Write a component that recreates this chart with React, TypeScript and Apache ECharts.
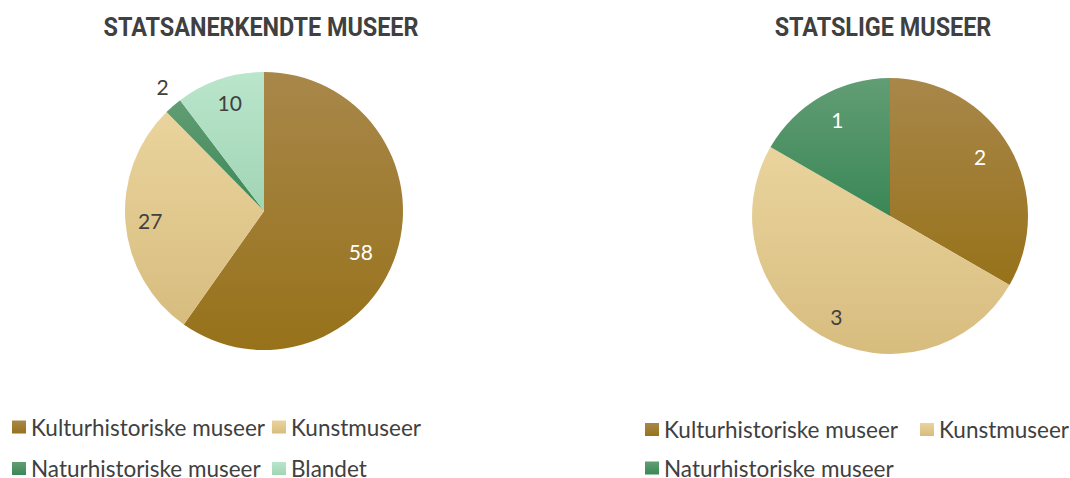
import React, { useEffect, useRef } from "react";
import * as echarts from "echarts";

const categories = ["Kulturhistoriske museer", "Kunstmuseer", "Naturhistoriske museer", "Blandet"];
const titles = ["STATSANERKENDTE MUSEER", "STATSLIGE MUSEER"];
const statsanerkendteValues = [58, 27, 2, 10];
const statsligeValues = [2, 3, 1];

const gradTop = ["#A8874A", "#EAD49D", "#629D74", "#BAE6CB"];
const gradBottom = ["#97721A", "#D7BC7E", "#3A8756", "#A1D4B5"];
const labelColors = ["#FFFFFF", "#404040", "#FFFFFF", "#404040"];

const TEXT = "#404040";
const FONT = "Lato, 'Open Sans', sans-serif";
const TITLE_FONT = "Roboto, 'Noto Sans', sans-serif";

function grad(i: number) {
  return new echarts.graphic.LinearGradient(0, 0, 0, 1, [
    { offset: 0, color: gradTop[i] },
    { offset: 1, color: gradBottom[i] },
  ]);
}

function visibleSeries(values: number[], center: number[], r: number) {
  return {
    type: "pie",
    center,
    radius: [0, r],
    startAngle: 90,
    clockwise: true,
    avoidLabelOverlap: false,
    label: { show: false },
    labelLine: { show: false },
    emphasis: { disabled: true },
    silent: true,
    data: values.map((v, i) => ({
      name: categories[i],
      value: v,
      itemStyle: { color: grad(i), borderWidth: 0 },
    })),
  };
}

function labelSeries(
  values: number[],
  center: number[],
  r: number,
  outsideIdx: number[],
  shifts: number[][]
) {
  return {
    type: "pie",
    center,
    radius: [r * 0.6, r],
    startAngle: 90,
    clockwise: true,
    avoidLabelOverlap: false,
    silent: true,
    emphasis: { disabled: true },
    itemStyle: { color: "rgba(0,0,0,0)" },
    labelLayout: (p: any) => {
      const s = shifts[p.dataIndex] || [0, 0];
      return { dx: s[0], dy: s[1] };
    },
    data: values.map((v, i) => {
      const outside = outsideIdx.includes(i);
      return {
        name: categories[i],
        value: v,
        label: {
          show: true,
          position: outside ? "outside" : "inside",
          formatter: "{c}",
          color: outside ? TEXT : labelColors[i],
          fontFamily: FONT,
          fontSize: 21,
        },
        labelLine: { show: false, length: 10, length2: 0 },
      };
    }),
  };
}

function legendItem(name: string, left: number, top: number) {
  return {
    data: [name],
    left,
    top,
    padding: 0,
    itemWidth: 14,
    itemHeight: 13,
    itemGap: 5,
    selectedMode: false,
    icon: "rect",
    textStyle: { color: TEXT, fontFamily: FONT, fontSize: 22.5, lineHeight: 18 },
  };
}

function titleText(text: string, x: number) {
  return {
    type: "text",
    x,
    y: 27.5,
    scaleX: 0.9,
    silent: true,
    style: {
      text,
      align: "center",
      verticalAlign: "middle",
      fill: TEXT,
      font: `bold 26px ${TITLE_FONT}`,
    },
  };
}

export default function App() {
  const ref = useRef<HTMLDivElement>(null);
  useEffect(() => {
    if (!ref.current) return;
    const chart = echarts.init(ref.current, null, { renderer: "svg" });
    const c1 = [264, 211];
    const c2 = [890, 216];
    chart.setOption({
      animation: false,
      backgroundColor: "#FFFFFF",
      graphic: [titleText(titles[0], 261), titleText(titles[1], 883)],
      legend: [
        legendItem(categories[0], 12, 415.5),
        legendItem(categories[1], 272, 415.5),
        legendItem(categories[2], 12, 457),
        legendItem(categories[3], 272, 457),
        legendItem(categories[0], 645, 418),
        legendItem(categories[1], 920, 418),
        legendItem(categories[2], 645, 456.5),
      ],
      series: [
        visibleSeries(statsanerkendteValues, c1, 139),
        visibleSeries(statsligeValues, c2, 138),
        labelSeries(statsanerkendteValues, c1, 139, [2], [[-12, 6], [0, 0], [7, -12], [2, 0]]),
        labelSeries(statsligeValues, c2, 138, [], [[-8, -3], [3, 2], [4, 2]]),
      ],
    });
    return () => chart.dispose();
  }, []);
  return (
    <div
      ref={ref}
      style={{ position: "fixed", left: 0, top: 0, width: 1070, height: 478, background: "#fff" }}
    />
  );
}
